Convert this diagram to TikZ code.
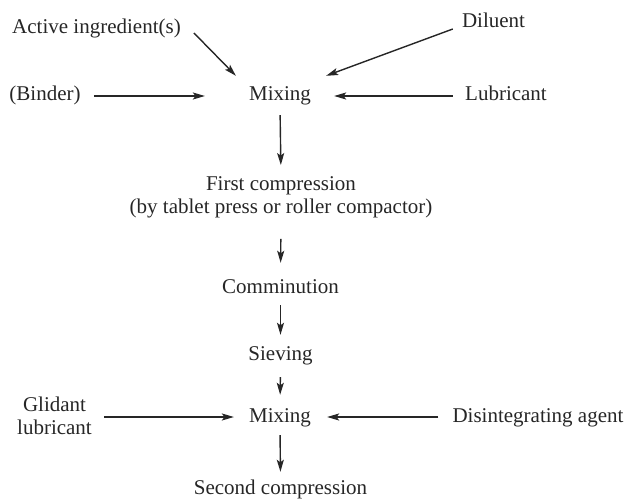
\documentclass[tikz,border=0pt]{standalone}
\usepackage{fontspec}
\setmainfont{Liberation Serif}
\usetikzlibrary{arrows.meta}
\begin{document}
\begin{tikzpicture}[x=1pt,y=1pt,
  lbl/.style={inner sep=0pt,font=\fontsize{21}{23}\selectfont,text height=15pt,text depth=5pt,anchor=base,text=black!85},
  lbltwo/.style={inner sep=0pt,font=\fontsize{21}{23}\selectfont,align=center,anchor=center,text=black!85},
  arr/.style={line width=1.4pt,draw=black!85,-{Stealth[length=12pt,width=7pt,inset=2.5pt]}}]
\useasboundingbox (0,0) rectangle (627,499);
% nodes (y = 499 - baseline)
\node[lbl] (act) at (96.5,465) {Active ingredient(s)};
\node[lbl] (dil) at (493.5,471) {Diluent};
\node[lbl] (bind) at (45,398) {(Binder)};
\node[lbl] (mix1) at (280,398) {Mixing};
\node[lbl] (lub) at (506,398) {Lubricant};
\node[lbltwo] (fc) at (281,302) {First compression\\(by tablet press or roller compactor)};
\node[lbl] (com) at (280.5,206) {Comminution};
\node[lbl] (siev) at (280.5,139) {Sieving};
\node[lbl] (mix2) at (280,77) {Mixing};
\node[lbltwo] (glid) at (54.5,83) {Glidant\\lubricant};
\node[lbl] (dis) at (538,77) {Disintegrating agent};
\node[lbl] (sec) at (280.5,5) {Second compression};
% connectors
\draw[arr] ([xshift=13pt,yshift=-4pt]act.east) -- ([xshift=-13pt,yshift=10pt]mix1.north west);
\draw[arr] ([xshift=-9pt,yshift=-6pt]dil.west) -- ([xshift=15pt,yshift=10pt]mix1.north east);
\draw[arr,shorten <=13pt,shorten >=44pt] (bind.east) -- (mix1.west);
\draw[arr,shorten <=12pt,shorten >=23pt] (lub.west) -- (mix1.east);
\draw[arr,shorten <=9pt,shorten >=11pt] (mix1.south) -- (fc.north);
\draw[arr,shorten <=21pt,shorten >=15pt] (fc.south) -- (com.north);
\draw[arr,shorten <=7pt,shorten >=10pt] (com.south) -- (siev.north);
\draw[arr,shorten <=12pt,shorten >=12pt] (siev.south) -- (mix2.north);
\draw[arr,shorten <=12pt,shorten >=15pt] (glid.east |- mix2.west) -- (mix2.west);
\draw[arr,shorten <=14pt,shorten >=16pt] (dis.west) -- (mix2.east);
\draw[arr,shorten <=8pt,shorten >=7pt] (mix2.south) -- (sec.north);
\end{tikzpicture}
\end{document}
